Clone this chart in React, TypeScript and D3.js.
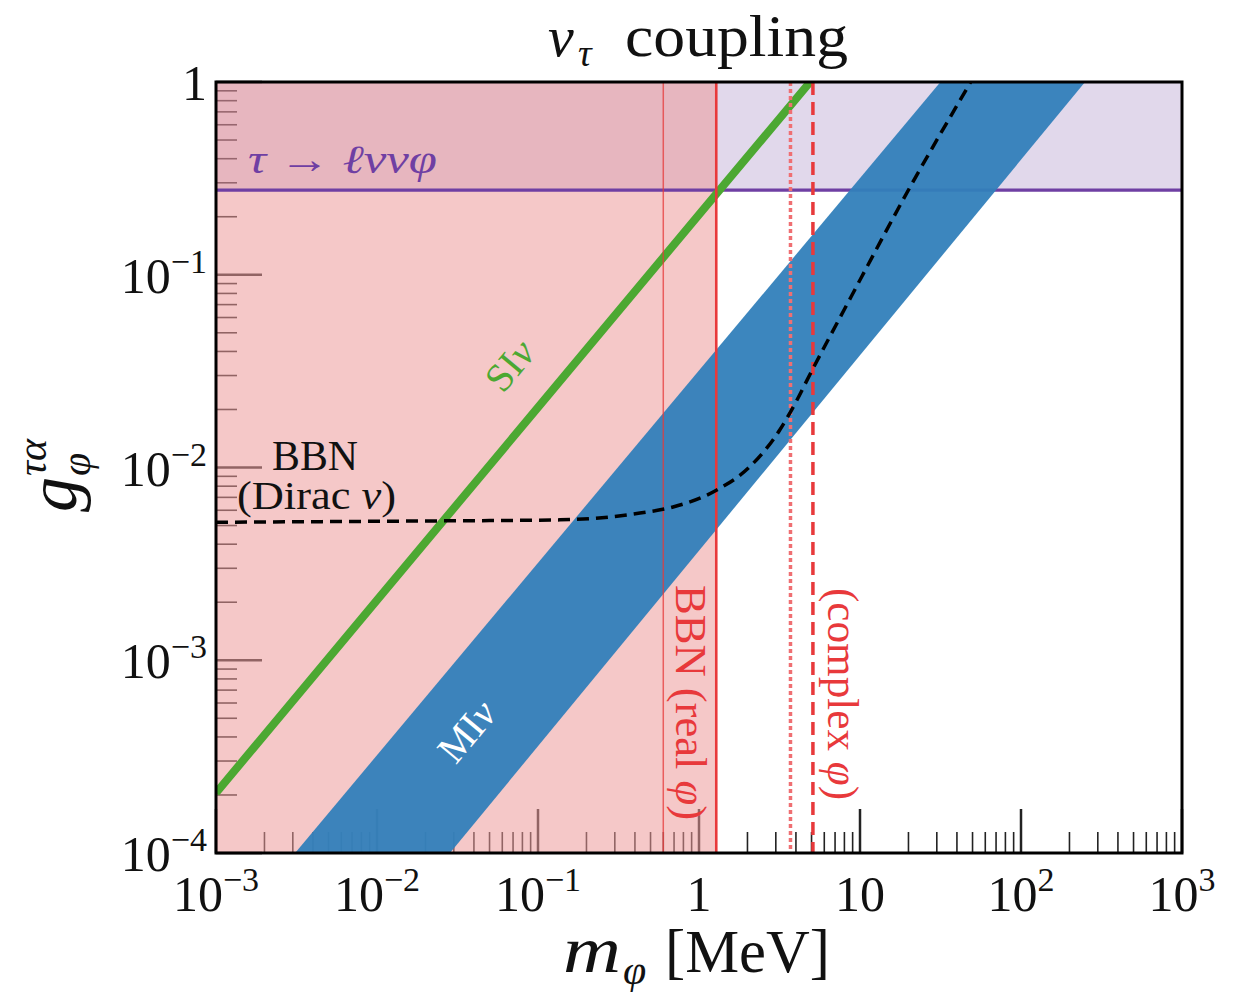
import React from "react";
import * as d3 from "d3";

const W = 1238;
const H = 992;
const PLOT = { left: 216, right: 1182, top: 82, bottom: 853 };
const FONT = "'Liberation Serif', 'DejaVu Serif', serif";

// axis ticks
const xMajorTicks = [1e-3, 1e-2, 1e-1, 1, 10, 100, 1000];
const xTickBase = ["10", "10", "10", "1", "10", "10", "10"];
const xTickExp = ["−3", "−2", "−1", "", "", "2", "3"];
const yMajorTicks = [1e-4, 1e-3, 1e-2, 1e-1, 1];
const yTickBase = ["10", "10", "10", "10", "1"];
const yTickExp = ["−4", "−3", "−2", "−1", ""];

// bounds
const tauDecayBoundG = 0.275;
const bbnRealThinMass = 0.6;
const bbnRealMass = 1.28;
const bbnComplexDottedMass = 3.7;
const bbnComplexDashedMass = 5.1;

// SI nu line
const sivMass = [1e-3, 1e-2, 1e-1, 1, 4.9];
const sivG = [2.05e-4, 2.05e-3, 2.05e-2, 0.205, 1.0];

// MI nu band edges
const mivUpperMass = [3.1e-3, 31.6];
const mivUpperG = [1e-4, 1];
const mivLowerMass = [0.0284, 250];
const mivLowerG = [1e-4, 1];

// BBN (Dirac nu) dashed curve
const diracMass = [1e-3, 0.0139, 0.137, 0.43, 0.69, 1.29, 2.07, 3.18, 4.06, 4.69, 8.79, 20.7, 47.5, 55];
const diracG = [5.2e-3, 5.27e-3, 5.35e-3, 5.8e-3, 6.24e-3, 7.64e-3, 1.01e-2, 1.57e-2, 2.24e-2, 2.84e-2, 7.67e-2, 0.29, 0.965, 1.19];

export default function App() {
  const x = d3.scaleLog().domain([1e-3, 1e3]).range([PLOT.left, PLOT.right]);
  const y = d3.scaleLog().domain([1e-4, 1]).range([PLOT.bottom, PLOT.top]);

  const line = d3
    .line<[number, number]>()
    .x((d) => x(d[0]))
    .y((d) => y(d[1]));
  const curve = d3
    .line<[number, number]>()
    .x((d) => x(d[0]))
    .y((d) => y(d[1]))
    .curve(d3.curveMonotoneX);

  const sivPts = sivMass.map((m, i) => [m, sivG[i]] as [number, number]);
  const bandPts: [number, number][] = [
    ...mivUpperMass.map((m, i) => [m, mivUpperG[i]] as [number, number]),
    ...mivLowerMass.map((m, i) => [m, mivLowerG[i]] as [number, number]).reverse(),
  ];
  const diracPts = diracMass.map((m, i) => [m, diracG[i]] as [number, number]);

  const isMajor = (v: number) => Math.abs(Math.log10(v) - Math.round(Math.log10(v))) < 1e-9;
  const xt = x.ticks();
  const yt = y.ticks();

  const pw = PLOT.right - PLOT.left;
  const ph = PLOT.bottom - PLOT.top;
  const rot = (-Math.atan((y(1e-3) - y(1e-2)) / (x(1e-2) - x(1e-3))) * 180) / Math.PI;

  return (
    <svg
      width={W}
      height={H}
      style={{ position: "absolute", left: 0, top: 0, background: "#fff" }}
      fontFamily={FONT}
    >
      <defs>
        <clipPath id="plotClip">
          <rect x={PLOT.left} y={PLOT.top} width={pw} height={ph} />
        </clipPath>
      </defs>

      {/* ticks */}
      <g stroke="#222">
        {xt.map((v, i) => (
          <line
            key={"xt" + i}
            x1={x(v)}
            x2={x(v)}
            y1={PLOT.bottom}
            y2={PLOT.bottom - (isMajor(v) ? 44 : 21)}
            strokeWidth={isMajor(v) ? 2.5 : 1.6}
          />
        ))}
        {yt.map((v, i) => (
          <line
            key={"yt" + i}
            x1={PLOT.left}
            x2={PLOT.left + (isMajor(v) ? 46 : 21)}
            y1={y(v)}
            y2={y(v)}
            strokeWidth={isMajor(v) ? 2.5 : 1.6}
          />
        ))}
      </g>

      <g clipPath="url(#plotClip)">
        {/* tau decay excluded region */}
        <rect
          x={PLOT.left}
          y={PLOT.top}
          width={pw}
          height={y(tauDecayBoundG) - PLOT.top}
          fill="#6a3d9a"
          fillOpacity={0.2}
        />
        {/* BBN real phi excluded region */}
        <rect
          x={PLOT.left}
          y={PLOT.top}
          width={x(bbnRealMass) - PLOT.left}
          height={ph}
          fill="#ed9b9b"
          fillOpacity={0.55}
        />
        <line
          x1={PLOT.left}
          x2={PLOT.right}
          y1={y(tauDecayBoundG)}
          y2={y(tauDecayBoundG)}
          stroke="#6f3fa3"
          strokeWidth={3.2}
        />
        {/* MI nu band */}
        <path d={line(bandPts) + "Z"} fill="#3280ba" fillOpacity={0.95} />
        {/* SI nu line */}
        <path d={line(sivPts) || ""} fill="none" stroke="#4ca832" strokeWidth={8} />
        {/* BBN vertical lines */}
        <line
          x1={x(bbnRealThinMass)}
          x2={x(bbnRealThinMass)}
          y1={PLOT.top}
          y2={PLOT.bottom}
          stroke="#e53a3a"
          strokeOpacity={0.75}
          strokeWidth={1.5}
        />
        <line
          x1={x(bbnRealMass)}
          x2={x(bbnRealMass)}
          y1={PLOT.top}
          y2={PLOT.bottom}
          stroke="#e8393b"
          strokeWidth={2.6}
        />
        <line
          x1={x(bbnComplexDottedMass)}
          x2={x(bbnComplexDottedMass)}
          y1={PLOT.top}
          y2={PLOT.bottom}
          stroke="#ef6f72"
          strokeWidth={3.5}
          strokeDasharray="4,3"
        />
        <line
          x1={x(bbnComplexDashedMass)}
          x2={x(bbnComplexDashedMass)}
          y1={PLOT.top}
          y2={PLOT.bottom}
          stroke="#e8393b"
          strokeWidth={3.5}
          strokeDasharray="13,7"
        />
        {/* BBN Dirac nu curve */}
        <path
          d={curve(diracPts) || ""}
          fill="none"
          stroke="#000"
          strokeWidth={3.5}
          strokeDasharray="12,7"
        />
      </g>

      {/* in-plot labels */}
      <text x={248} y={173} fontSize={40} fontStyle="italic" fill="#6f3fa3" textLength={189} lengthAdjust="spacingAndGlyphs">
        τ → ℓννφ
      </text>
      <text
        transform={`translate(520,374) rotate(${rot})`}
        textAnchor="middle"
        fontSize={40}
        fill="#4ca832"
      >
        SI<tspan fontStyle="italic">ν</tspan>
      </text>
      <text
        transform={`translate(477,740) rotate(${rot})`}
        textAnchor="middle"
        fontSize={40}
        fill="#ffffff"
      >
        MI<tspan fontStyle="italic">ν</tspan>
      </text>
      <text x={272} y={470} fontSize={42} fill="#111" textLength={86} lengthAdjust="spacingAndGlyphs">
        BBN
      </text>
      <text x={237} y={509} fontSize={39} fill="#111" textLength={159} lengthAdjust="spacingAndGlyphs">
        (Dirac <tspan fontStyle="italic">ν</tspan>)
      </text>
      <text
        transform="translate(676,585) rotate(90)"
        fontSize={44}
        fill="#e8393b"
        textLength={235}
        lengthAdjust="spacingAndGlyphs"
      >
        BBN (real <tspan fontStyle="italic">φ</tspan>)
      </text>
      <text
        transform="translate(828,588) rotate(90)"
        fontSize={44}
        fill="#e8393b"
        textLength={212}
        lengthAdjust="spacingAndGlyphs"
      >
        (complex <tspan fontStyle="italic">φ</tspan>)
      </text>

      {/* frame */}
      <rect x={PLOT.left} y={PLOT.top} width={pw} height={ph} fill="none" stroke="#000" strokeWidth={3} />

      {/* x tick labels */}
      {xMajorTicks.map((v, i) => (
        <text key={"xl" + i} x={x(v)} y={911} textAnchor="middle" fontSize={50} fill="#111">
          {xTickBase[i]}
          {xTickExp[i] ? (
            <tspan fontSize={34} dy={-20}>
              {xTickExp[i]}
            </tspan>
          ) : null}
        </text>
      ))}
      {/* y tick labels */}
      {yMajorTicks.map((v, i) => (
        <text key={"yl" + i} x={207} y={y(v) + 18} textAnchor="end" fontSize={50} fill="#111">
          {yTickBase[i]}
          {yTickExp[i] ? (
            <tspan fontSize={34} dy={-20}>
              {yTickExp[i]}
            </tspan>
          ) : null}
        </text>
      ))}

      {/* title */}
      <text x={548} y={56} fontSize={58} fontStyle="italic" fill="#111">ν</text>
      <text x={578} y={66} fontSize={38} fontStyle="italic" fill="#111">τ</text>
      <text x={625} y={56} fontSize={60} fill="#111" textLength={223} lengthAdjust="spacingAndGlyphs">
        coupling
      </text>

      {/* x axis title */}
      <text x={563} y={972} fontSize={66} fontStyle="italic" fill="#111" textLength={58} lengthAdjust="spacingAndGlyphs">m</text>
      <text x={623} y={984} fontSize={42} fontStyle="italic" fill="#111">φ</text>
      <text x={665} y={972} fontSize={62} fill="#111" textLength={165} lengthAdjust="spacingAndGlyphs">
        [MeV]
      </text>

      {/* y axis title */}
      <g transform="translate(76,512) rotate(-90)" fill="#111" fontStyle="italic">
        <text x={0} y={0} fontSize={70}>g</text>
        <text x={36} y={14} fontSize={42}>φ</text>
        <text x={36} y={-30} fontSize={42}>τα</text>
      </g>
    </svg>
  );
}
